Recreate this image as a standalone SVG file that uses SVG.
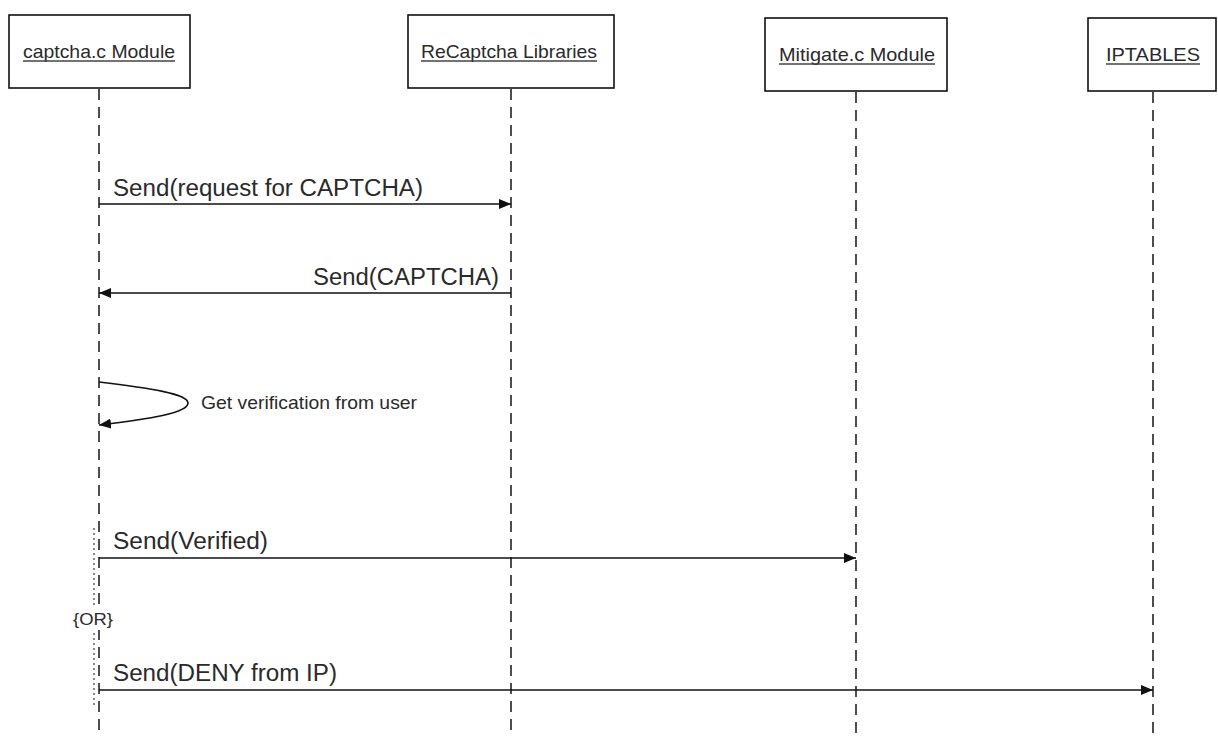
<svg xmlns="http://www.w3.org/2000/svg" width="1218" height="736" viewBox="0 0 1218 736">
  <style>
    .box { fill: #ffffff; stroke: #111111; stroke-width: 1.6; }
    .title { font-family: "Liberation Sans", Arial, sans-serif; font-size: 19px; fill: #2a2a2a; text-anchor: middle; }
    .uline { stroke: #444444; stroke-width: 1.4; }
    .life { stroke: #222222; stroke-width: 1.6; stroke-dasharray: 11 7; fill: none; }
    .msg { stroke: #111111; stroke-width: 1.6; fill: none; }
    .lbl { font-family: "Liberation Sans", Arial, sans-serif; font-size: 23px; fill: #2a2a2a; }
    .small { font-family: "Liberation Sans", Arial, sans-serif; font-size: 19px; fill: #2a2a2a; }
    .or { font-family: "Liberation Sans", Arial, sans-serif; font-size: 17px; fill: #2a2a2a; }
  </style>
  <defs>
    <marker id="arrow" viewBox="0 0 12 10" refX="12" refY="5" markerWidth="12" markerHeight="10" markerUnits="userSpaceOnUse" orient="auto">
      <path d="M0,0 L12,5 L0,10 Z" fill="#111111"/>
    </marker>
  </defs>

  <rect width="1218" height="736" fill="#ffffff"/>

  <!-- lifelines -->
  <g id="lifelines">
    <line class="life" x1="99" y1="89" x2="99" y2="736"/>
    <line class="life" x1="511" y1="89" x2="511" y2="736"/>
    <line class="life" x1="856" y1="92" x2="856" y2="736"/>
    <line class="life" x1="1153" y1="92" x2="1153" y2="736"/>
  </g>

  <!-- participants -->
  <g id="captcha-module">
    <rect class="box" x="9" y="15" width="181" height="73"/>
    <text class="title" x="99" y="58" textLength="152" lengthAdjust="spacingAndGlyphs">captcha.c Module</text>
    <line class="uline" x1="23" y1="61" x2="175" y2="61"/>
  </g>
  <g id="recaptcha-libraries">
    <rect class="box" x="408" y="15" width="206" height="73"/>
    <text class="title" x="509" y="58" textLength="176" lengthAdjust="spacingAndGlyphs">ReCaptcha Libraries</text>
    <line class="uline" x1="421" y1="61" x2="597" y2="61"/>
  </g>
  <g id="mitigate-module">
    <rect class="box" x="765" y="18" width="182" height="73"/>
    <text class="title" x="857" y="61" textLength="156" lengthAdjust="spacingAndGlyphs">Mitigate.c Module</text>
    <line class="uline" x1="779" y1="64" x2="935" y2="64"/>
  </g>
  <g id="iptables">
    <rect class="box" x="1088" y="18" width="128" height="73"/>
    <text class="title" x="1153" y="61" textLength="94" lengthAdjust="spacingAndGlyphs">IPTABLES</text>
    <line class="uline" x1="1106" y1="64" x2="1200" y2="64"/>
  </g>

  <!-- alternative bracket beside the captcha lifeline -->
  <g id="alt-bracket">
    <line x1="94" y1="528" x2="94" y2="708" stroke="#888888" stroke-width="2" stroke-dasharray="2 3"/>
    <rect x="72" y="608" width="42" height="22" fill="#ffffff"/>
    <text class="or" x="73" y="625" textLength="40" lengthAdjust="spacingAndGlyphs">{OR}</text>
  </g>

  <!-- messages -->
  <g id="connectors">
    <line class="msg" x1="99" y1="204" x2="511" y2="204" marker-end="url(#arrow)"/>
    <line class="msg" x1="511" y1="293" x2="99" y2="293" marker-end="url(#arrow)"/>
    <path class="msg" d="M99,382 C150,388 188,394 188,403 C188,413 150,419 99,425" marker-end="url(#arrow)"/>
    <line class="msg" x1="99" y1="558" x2="856" y2="558" marker-end="url(#arrow)"/>
    <line class="msg" x1="99" y1="690" x2="1153" y2="690" marker-end="url(#arrow)"/>
  </g>

  <g id="labels">
    <text class="lbl" x="113" y="196" textLength="310" lengthAdjust="spacingAndGlyphs">Send(request for CAPTCHA)</text>
    <text class="lbl" x="313" y="285" textLength="186" lengthAdjust="spacingAndGlyphs">Send(CAPTCHA)</text>
    <text class="small" x="201" y="409" textLength="216" lengthAdjust="spacingAndGlyphs">Get verification from user</text>
    <text class="lbl" x="113" y="549" textLength="155" lengthAdjust="spacingAndGlyphs">Send(Verified)</text>
    <text class="lbl" x="113" y="681" textLength="224" lengthAdjust="spacingAndGlyphs">Send(DENY from IP)</text>
  </g>
</svg>
